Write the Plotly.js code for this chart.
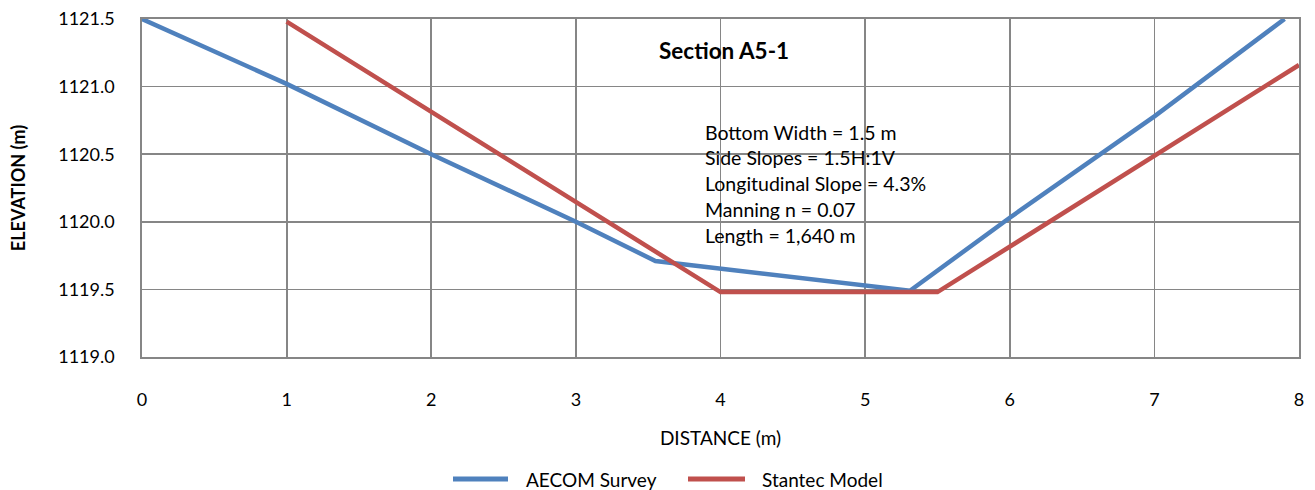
<!DOCTYPE html>
<html><head><meta charset="utf-8">
<script src="https://cdn.plot.ly/plotly-3.0.1.min.js"></script>
<style>body{margin:0;background:#fff}#chart{width:1315px;height:490px}</style>
</head><body><div id="chart"></div>
<script>
const aecomX = [0, 1, 2, 3, 3.55, 5.31, 6, 7, 7.9];
const aecomY = [1121.5, 1121.02, 1120.5, 1120.0, 1119.71, 1119.49, 1120.03, 1120.78, 1121.5];
const stantecX = [1, 4, 5.5, 8];
const stantecY = [1121.48, 1119.48, 1119.48, 1121.16];
const seriesNames = ["AECOM Survey", "Stantec Model"];
const seriesColors = ["#4F81BD", "#C0504D"];
const infoLines = ["Bottom Width = 1.5 m", "Side Slopes = 1.5H:1V", "Longitudinal Slope = 4.3%", "Manning n = 0.07", "Length = 1,640 m"];
const chartTitle = "Section A5-1";
const FONT = "Lato, Open Sans, sans-serif";

const W = 1315, H = 490, ML = 142, MR = 16, MT = 19, MB = 133;
const PH = H - MT - MB, PW = W - ML - MR;
const py = px => (H - MB - px) / PH;   // pixel row -> paper y
const pxX = px => (px - ML) / PW;      // pixel col -> paper x

const traces = [
  {x: aecomX, y: aecomY, mode: 'lines', name: seriesNames[0], line: {color: seriesColors[0], width: 4.5}, showlegend: false},
  {x: stantecX, y: stantecY, mode: 'lines', name: seriesNames[1], line: {color: seriesColors[1], width: 4.5}, showlegend: false}
];
const annotations = [
  {text: '<b>' + chartTitle + '</b>', xref: 'paper', yref: 'paper', x: pxX(724), y: py(50), xanchor: 'center', yanchor: 'middle', showarrow: false, font: {size: 22.5}}
];
infoLines.forEach((t, i) => annotations.push({
  text: t, xref: 'paper', yref: 'paper', x: pxX(703), y: py(132 + i * 25.8), xanchor: 'left', yanchor: 'middle',
  align: 'left', showarrow: false, font: {size: 19.5}
}));
// legend drawn manually so it sits where the reference puts it
const legendPos = [{x0: 453, x1: 508, tx: 524}, {x0: 688, x1: 745, tx: 760}];
const shapes = [];
legendPos.forEach((p, i) => {
  shapes.push({type: 'line', xref: 'paper', yref: 'paper', x0: pxX(p.x0), x1: pxX(p.x1), y0: py(479), y1: py(479),
    line: {color: seriesColors[i], width: 5}});
  annotations.push({text: seriesNames[i], xref: 'paper', yref: 'paper', x: pxX(p.tx), y: py(479), xanchor: 'left', yanchor: 'middle',
    showarrow: false, font: {size: 19}});
});
const layout = {
  width: W, height: H,
  margin: {l: ML, r: MR, t: MT, b: MB},
  paper_bgcolor: '#fff', plot_bgcolor: '#fff',
  font: {family: FONT, size: 18, color: '#000'},
  showlegend: false,
  xaxis: {range: [0, 8], dtick: 1, tick0: 0, showgrid: true, gridcolor: '#868686', gridwidth: 1.75,
    showline: true, linecolor: '#868686', linewidth: 1.75, mirror: true, zeroline: false, ticks: '',
    ticklabelstandoff: 26, tickfont: {size: 18},
    title: {text: 'DISTANCE (m)', font: {size: 19}, standoff: 22}},
  yaxis: {range: [1119.0, 1121.5], dtick: 0.5, tick0: 1119, tickformat: '.1f', showgrid: true, gridcolor: '#868686', gridwidth: 1.75,
    showline: true, linecolor: '#868686', linewidth: 1.75, mirror: true, zeroline: false, ticks: '',
    ticklabelstandoff: 22, tickfont: {size: 18},
    title: {text: '<b>ELEVATION (m)</b>', font: {size: 18}, standoff: 28}},
  shapes: shapes,
  annotations: annotations
};
Plotly.newPlot('chart', traces, layout, {displayModeBar: false, staticPlot: true});
</script></body></html>
